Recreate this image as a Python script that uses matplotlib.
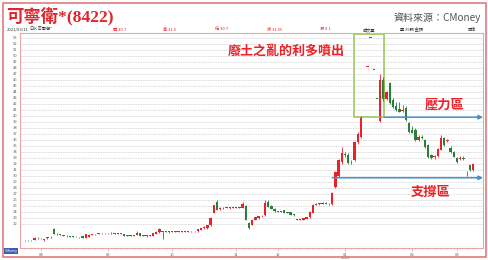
import matplotlib
matplotlib.use("Agg")
import matplotlib.pyplot as plt
from matplotlib.patches import Rectangle

plt.rcParams['font.family'] = ['Noto Sans CJK TC', 'DejaVu Sans']

# daily candles (open, high, low, close)
opens = [19.3, 19.35, 19.25, 19.4, 19.7, 19.6, 19.3, 19.6, 19.75, 21.15,
         20.3, 20.3, 20.1, 20.0, 19.95, 19.9, 19.85, 19.85, 20.0, 19.7,
         19.9, 20.2, 20.3, 20.4, 20.45, 20.5, 20.45, 20.5, 20.45, 20.4,
         20.45, 20.35, 20.1, 20.0, 20.05, 20.15, 20.5, 20.05, 20.0, 20.05,
         20.0, 20.4, 20.6, 20.6, 20.75, 20.65, 20.7, 20.7, 20.65, 20.7,
         20.75, 20.7, 20.75, 20.8, 20.75, 21.0, 21.3, 21.3, 21.8, 23.9,
         25.7, 24.5, 24.6, 24.7, 24.65, 24.7, 24.65, 24.7, 24.7, 25.0,
         22.2, 21.85, 22.7, 23.0, 23.3, 23.5, 25.7, 25.0, 24.5, 24.1,
         24.05, 24.3, 23.9, 24.0, 23.5, 22.7, 22.65, 22.65, 22.9, 23.1,
         23.9, 25.2, 25.35, 25.4, 25.45, 25.4, 25.3, 28.1, 30.0, 32.3,
         33.6, 33.5, 32.3, 32.7, 35.6, 36.5, 43.8, 48.2, 53.0, 47.7,
         42.9, 39.2, 46.0, 42.9, 45.5, 42.6, 41.6, 41.2, 40.9, 41.3,
         38.8, 37.7, 37.7, 36.0, 36.5, 36.0, 35.1, 33.5, 33.1, 33.4,
         34.4, 36.3, 35.8, 34.7, 34.0, 33.0, 32.9, 33.0, 30.6, 31.8,
         31.0]
highs = [19.4, 19.4, 19.4, 19.8, 19.8, 19.7, 19.55, 19.8, 19.95, 21.4,
         20.45, 20.35, 20.2, 20.1, 20.05, 19.95, 19.95, 19.9, 20.05, 20.4,
         20.25, 20.35, 20.4, 20.5, 20.55, 20.55, 20.55, 20.6, 20.5, 20.5,
         20.5, 20.4, 20.15, 20.1, 20.1, 20.85, 20.55, 20.15, 20.1, 20.15,
         20.55, 20.75, 21.3, 20.9, 20.8, 20.75, 20.8, 20.75, 20.75, 20.8,
         20.8, 20.8, 20.85, 20.85, 21.2, 21.35, 21.6, 21.9, 23.1, 25.2,
         26.0, 24.8, 24.8, 24.8, 24.75, 24.8, 24.75, 24.8, 25.7, 25.1,
         22.3, 22.7, 23.2, 23.4, 23.5, 26.0, 26.0, 25.2, 24.6, 24.2,
         24.2, 24.4, 24.0, 24.05, 23.6, 22.8, 22.75, 23.0, 23.2, 24.1,
         25.3, 25.5, 25.5, 25.6, 25.6, 25.5, 27.3, 30.8, 32.8, 34.8,
         34.0, 33.9, 32.6, 35.8, 37.3, 40.0, 43.8, 48.2, 53.0, 47.7,
         42.9, 47.0, 46.5, 44.2, 45.7, 43.0, 42.4, 42.4, 41.8, 41.6,
         39.0, 38.3, 38.0, 36.8, 36.8, 36.2, 35.3, 33.6, 33.5, 34.6,
         36.9, 36.5, 36.1, 35.0, 34.1, 33.2, 33.3, 33.3, 30.9, 31.9,
         32.1]
lows = [19.2, 19.2, 19.2, 19.35, 19.5, 19.5, 19.2, 19.55, 19.7, 20.3,
        20.15, 20.1, 19.95, 19.9, 19.85, 19.8, 19.75, 19.7, 19.6, 19.65,
        19.85, 20.15, 20.2, 20.3, 20.35, 20.4, 20.4, 20.4, 20.35, 20.35,
        20.35, 20.0, 19.95, 19.95, 19.95, 20.1, 20.0, 19.95, 19.9, 20.0,
        19.95, 20.35, 20.55, 19.5, 20.6, 20.55, 20.6, 20.6, 20.6, 20.65,
        20.65, 20.6, 20.7, 20.7, 20.7, 20.95, 21.2, 21.2, 21.7, 23.8,
        24.3, 24.3, 24.5, 24.6, 24.55, 24.6, 24.6, 24.6, 24.6, 22.6,
        21.2, 21.8, 22.6, 22.9, 23.1, 23.4, 24.8, 24.5, 24.0, 24.0,
        23.95, 23.8, 23.8, 23.5, 23.4, 22.6, 22.6, 22.6, 22.85, 23.0,
        23.8, 25.1, 25.2, 25.3, 25.35, 25.2, 25.2, 28.0, 29.8, 32.0,
        33.2, 32.0, 32.0, 32.5, 35.4, 36.3, 43.8, 48.2, 53.0, 47.7,
        42.9, 39.0, 42.5, 42.7, 42.0, 41.4, 40.9, 40.6, 40.6, 39.2,
        37.2, 37.1, 35.9, 35.8, 36.2, 34.7, 33.0, 32.9, 32.9, 33.2,
        34.3, 35.0, 35.7, 33.9, 33.1, 32.2, 32.6, 32.7, 30.0, 30.9,
        30.9]
closes = [19.35, 19.25, 19.35, 19.7, 19.6, 19.65, 19.5, 19.75, 19.9, 20.35,
          20.3, 20.2, 20.0, 19.95, 19.9, 19.85, 19.8, 19.75, 19.7, 20.3,
          20.2, 20.3, 20.35, 20.45, 20.5, 20.45, 20.5, 20.45, 20.4, 20.45,
          20.4, 20.05, 20.0, 20.05, 20.0, 20.5, 20.05, 20.0, 20.05, 20.1,
          20.45, 20.65, 21.15, 20.8, 20.65, 20.7, 20.7, 20.65, 20.7, 20.75,
          20.7, 20.75, 20.8, 20.75, 21.1, 21.3, 21.5, 21.85, 23.0, 25.15,
          24.35, 24.6, 24.7, 24.65, 24.7, 24.65, 24.7, 24.75, 25.3, 22.7,
          21.35, 22.6, 23.1, 23.3, 23.4, 25.5, 24.9, 24.55, 24.1, 24.05,
          24.1, 23.9, 23.85, 23.55, 23.5, 22.65, 22.7, 22.95, 23.15, 24.0,
          25.15, 25.35, 25.4, 25.45, 25.4, 25.3, 27.15, 30.6, 32.6, 33.8,
          33.5, 32.2, 32.4, 35.6, 37.0, 39.8, 43.8, 48.2, 53.0, 47.7,
          42.9, 46.0, 42.8, 44.0, 42.2, 41.5, 41.0, 40.7, 41.0, 39.4,
          37.35, 37.2, 36.0, 36.5, 36.4, 34.85, 33.2, 33.0, 33.4, 34.5,
          36.3, 35.2, 36.0, 34.0, 33.2, 32.35, 33.0, 32.9, 30.7, 31.0,
          32.0]

month_pos = [5, 26, 46, 66, 79, 100, 121, 135]
month_labels = ["08", "09", "10", "11", "12", "01", "02", "03"]
price_ticks = list(range(22, 54))

box_x = [102.8, 112.2]
box_y = [39.8, 53.7]
resist_level = 39.8
support_level = 29.7

red = "#ec2027"
green = "#2e7d3a"

fig = plt.figure(figsize=(4.89, 2.60), dpi=100)
ax = fig.add_axes([20 / 489, 12 / 260, 463 / 489, 215 / 260])

# candles
for i in range(len(opens)):
    o, h, l, c = opens[i], highs[i], lows[i], closes[i]
    if c > o:
        col = red
    elif c < o:
        col = green
    else:
        col = red if i == 0 or c >= closes[i - 1] else green
    ax.vlines(i, l, h, color=col, linewidth=0.6)
    ax.bar(i, max(abs(c - o), 0.1), bottom=min(o, c), width=0.75, color=col,
           linewidth=0)

ax.set_xlim(-1.56, 143.1)
ax.set_ylim(18.0, 53.83)

ax.set_yticks(price_ticks)
ax.set_yticklabels([str(v) for v in price_ticks])
ax.set_xticks(month_pos)
ax.set_xticklabels(month_labels)
ax.set_xticks(range(0, 142, 2), minor=True)
ax.tick_params(axis='y', length=0, labelsize=3, labelcolor='#666666', pad=2)
ax.tick_params(axis='x', length=2, width=0.5, color='#e39a9a', labelsize=3,
               labelcolor='#666666', pad=1.5)
ax.tick_params(axis='x', which='minor', length=1, width=0.5, color='#e39a9a')
ax.grid(axis='y', color='#d9d9d9', linestyle=(0, (2, 1)), linewidth=0.6)
ax.set_axisbelow(True)
for s in ax.spines.values():
    s.set_color('#eaa5a5')
    s.set_linewidth(0.8)
ax.text(100, 16.6, "2021", fontsize=3, color='#666666', ha='center', va='top')

# annotations
ax.add_patch(Rectangle((box_x[0], box_y[0]), box_x[1] - box_x[0], box_y[1] - box_y[0],
                       fill=False, edgecolor='#9ccb5a', linewidth=1.2))
ax.text(100, 50.8, "廢土之亂的利多噴出", color=red, fontsize=9.4, fontweight='bold',
        ha='right', va='center')
ax.annotate("", xy=(143.1, resist_level), xytext=(112.2, resist_level),
            arrowprops=dict(arrowstyle='-|>', color='#3d93d2', lw=1.1,
                            mutation_scale=6, shrinkA=0, shrinkB=0))
ax.annotate("", xy=(143.1, support_level), xytext=(96, support_level),
            arrowprops=dict(arrowstyle='-|>', color='#3d93d2', lw=1.1,
                            mutation_scale=6, shrinkA=0, shrinkB=0))
ax.text(131, 41.8, "壓力區", color=red, fontsize=9.5, fontweight='bold',
        ha='center', va='center')
ax.text(126.6, 27.3, "支撐區", color=red, fontsize=9.5, fontweight='bold',
        ha='center', va='center')

# header
fig.text(6 / 489, 1 - 17 / 260, "可寧衛*(8422)", color='#e0262d', fontsize=12.5,
         fontweight='bold', family=['Liberation Serif', 'Noto Sans CJK TC'],
         va='center', ha='left')
fig.text(481 / 489, 1 - 18 / 260, "資料來源：CMoney", color='#555555', fontsize=7.2,
         va='center', ha='right')
info = [(7, "2021/03/11", '#333333'), (30, "日K 可寧衛*", '#333333'),
        (113, "開 30.7", red), (163, "高 31.6", red), (215, "低 30.7", red),
        (267, "收 31.55", red), (320, "漲 0.1", red), (363, "成交量", '#333333'),
        (400, "量 39張 金額", '#333333'), (468, "回復", '#333333')]
for px, txt, col in info:
    fig.text(px / 489, 1 - 29.5 / 260, txt, fontsize=3, color=col, va='center')

# CMoney tag bottom left
fig.text(11 / 489, 1 - 251 / 260, "CMoney", fontsize=2.5, color='white', ha='center',
         va='center', bbox=dict(boxstyle='square,pad=0.3', fc='#3e5fb0', ec='none'))

# outer border
fig.add_artist(Rectangle((3 / 489, 3 / 260), 483 / 489, 254 / 260, transform=fig.transFigure,
                         fill=False, edgecolor='#e27a7a', linewidth=1.2))

plt.savefig("out.png", dpi=100)
